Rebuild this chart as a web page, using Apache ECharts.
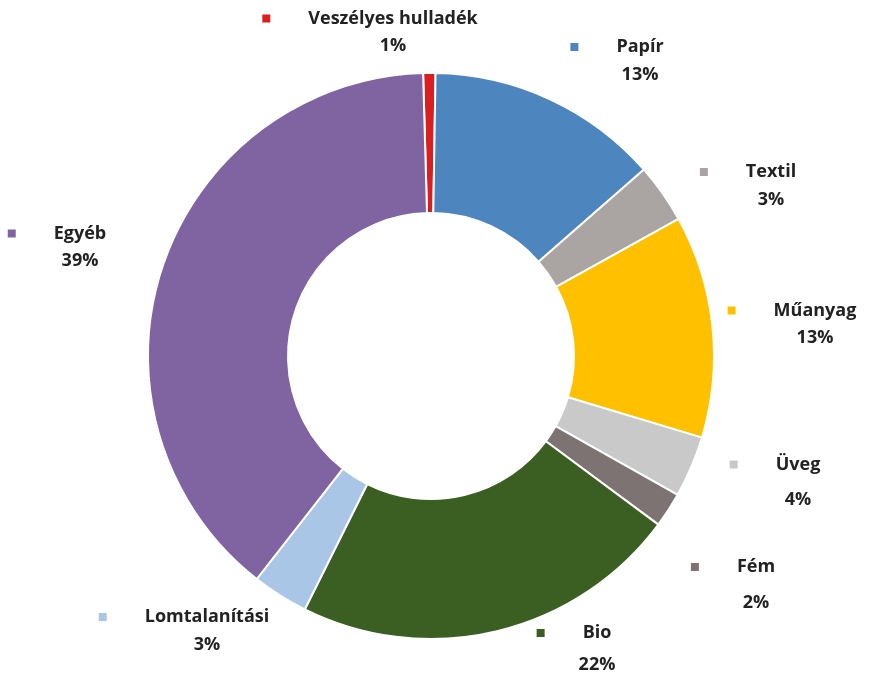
<!DOCTYPE html>
<html>
<head>
<meta charset="utf-8">
<script src="https://cdn.jsdelivr.net/npm/echarts@6/dist/echarts.min.js"></script>
<style>
  html, body { margin: 0; padding: 0; background: #ffffff; }
  #chart { width: 880px; height: 687px; }
</style>
</head>
<body>
<div id="chart"></div>
<script>
// Categories (clockwise from the top)
const categories = ['Veszélyes hulladék', 'Papír', 'Textil', 'Műanyag', 'Üveg', 'Fém', 'Bio', 'Lomtalanítási', 'Egyéb'];
// Shares in percent
const shares = [0.7, 13.3, 3.4, 12.7, 3.5, 2.0, 22.2, 3.2, 39.0];
// Slice colours
const colors = ['#d91f1f', '#4d86be', '#aaa5a3', '#ffc000', '#c9c9c9', '#7d7373', '#3b5e22', '#a9c6e6', '#8064a2'];
// Label block anchor points (centre of each label block)
const labelPos = [[370, 32], [617, 61], [748, 186], [792, 324], [775, 482], [733, 585], [574, 649], [184, 631], [57, 247]];
// Line spacing of each label block
const labelLineHeights = [27, 28, 28, 27, 35, 36, 32, 28, 27];

const chart = echarts.init(document.getElementById('chart'), null, { renderer: 'canvas' });

const data = categories.map((name, i) => ({
  name: name,
  value: shares[i],
  itemStyle: { color: colors[i] }
}));

const richStyles = {
  g: { width: 38, height: 8 },
  s: { width: 46, height: 8 }
};
colors.forEach((c, i) => {
  richStyles['m' + i] = { width: 8, height: 8, backgroundColor: c };
  richStyles['n' + i] = { fontFamily: 'Open Sans', fontWeight: 'bold', fontSize: 18, color: '#222222', lineHeight: labelLineHeights[i] };
});

chart.setOption({
  animation: false,
  backgroundColor: '#ffffff',
  series: [{
    type: 'pie',
    center: [431, 356],
    radius: [143, 283],
    startAngle: 91.6,
    clockwise: true,
    avoidLabelOverlap: false,
    itemStyle: { borderColor: '#ffffff', borderWidth: 2 },
    label: {
      show: true,
      position: 'outside',
      align: 'center',
      formatter: function (p) {
        const i = p.dataIndex;
        return '{m' + i + '|}{g| }{n' + i + '|' + p.name + '}\n{s| }{n' + i + '|' + Math.round(p.value) + '%}';
      },
      rich: richStyles
    },
    labelLine: { show: false },
    labelLayout: function (params) {
      const pos = labelPos[params.dataIndex];
      return { x: pos[0], y: pos[1], align: 'center', verticalAlign: 'middle', hideOverlap: false };
    },
    emphasis: { disabled: true },
    data: data
  }]
});
</script>
</body>
</html>
